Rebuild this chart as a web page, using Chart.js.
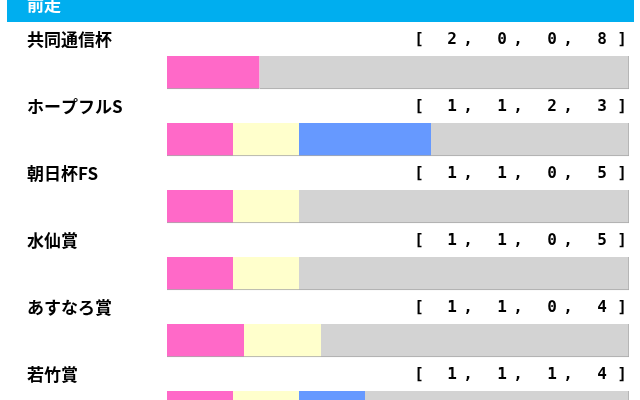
<!DOCTYPE html>
<html>
<head>
<meta charset="utf-8">
<script src="https://cdn.jsdelivr.net/npm/chart.js@4/dist/chart.umd.min.js"></script>
<style>
  html, body { margin: 0; padding: 0; background: #fff; overflow: hidden; }
  #wrap { width: 640px; height: 400px; overflow: hidden; position: relative; }
  #wrap canvas { position: absolute; left: 0; top: 0; }
</style>
</head>
<body>
<div id="wrap"><canvas id="chart" width="640" height="450"></canvas></div>
<script>
const races = ['共同通信杯', 'ホープフルS', '朝日杯FS', '水仙賞', 'あすなろ賞', '若竹賞'];
const first  = [2, 1, 1, 1, 1, 1];
const second = [0, 1, 1, 1, 1, 1];
const third  = [0, 2, 0, 0, 0, 1];
const other  = [8, 3, 5, 5, 4, 4];
const heading = '前走';

const COLORS = ['#ff69c8', '#ffffcc', '#6699ff', '#d3d3d3'];

const series = [first, second, third, other];
const totals = races.map((_, i) => series.reduce((s, arr) => s + arr[i], 0));
const pct = arr => arr.map((v, i) => v / totals[i] * 100);

// header band + labels + [a, b, c, d] counts
const textPlugin = {
  id: 'rowText',
  afterDraw(chart) {
    const ctx = chart.ctx;
    const y = chart.scales.y;
    ctx.save();
    ctx.fillStyle = '#00aeef';
    ctx.fillRect(7, 0, 627, 22);
    ctx.fillStyle = '#fff';
    ctx.font = 'bold 17px "Noto Sans CJK JP"';
    ctx.textBaseline = 'middle';
    ctx.textAlign = 'left';
    ctx.fillText(heading, 27, 5);

    races.forEach((name, i) => {
      const cy = y.getPixelForValue(i) - 33;
      ctx.fillStyle = '#000';
      ctx.font = 'bold 17px "Noto Sans CJK JP"';
      ctx.textAlign = 'left';
      ctx.fillText(name, 27, cy);

      ctx.font = 'bold 16px "DejaVu Sans Mono"';
      ctx.textAlign = 'center';
      ctx.fillText('[', 419, cy);
      ctx.fillText(']', 622, cy);
      series.forEach((arr, k) => {
        const cx = 452 + k * 50;
        ctx.fillText(String(arr[i]), cx, cy);
        if (k < 3) ctx.fillText(',', cx + 16, cy);
      });
    });
    ctx.restore();
  }
};

new Chart(document.getElementById('chart'), {
  type: 'bar',
  data: {
    labels: races,
    datasets: series.map((arr, k) => ({
      data: pct(arr),
      backgroundColor: COLORS[k],
      borderColor: '#a8a8a8',
      borderWidth: k === 3 ? { top: 0, left: 0, bottom: 1, right: 1 } : { top: 0, left: 0, bottom: 1, right: 0 },
      borderSkipped: false,
      barThickness: 33
    }))
  },
  options: {
    indexAxis: 'y',
    responsive: false,
    animation: false,
    layout: { padding: { left: 167, right: 11, top: 39, bottom: 9 } },
    scales: {
      x: { stacked: true, min: 0, max: 100, display: false },
      y: { stacked: true, display: false }
    },
    plugins: {
      legend: { display: false },
      tooltip: { enabled: false }
    }
  },
  plugins: [textPlugin]
});
</script>
</body>
</html>
